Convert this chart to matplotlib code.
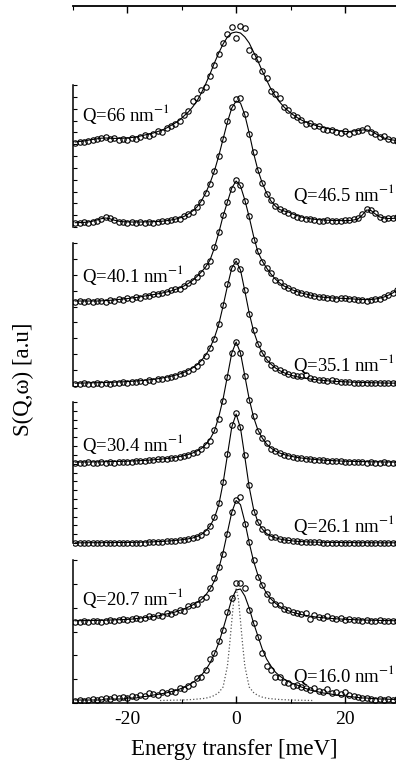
import numpy as np
import matplotlib
matplotlib.use('Agg')
import matplotlib.pyplot as plt
from matplotlib.ticker import MultipleLocator

plt.rcParams['font.family'] = 'Liberation Serif'
plt.rcParams['mathtext.fontset'] = 'stix'
plt.rcParams['axes.unicode_minus'] = False

# energy transfer grid (meV)
energy = [-29.6, -28.8, -28.0, -27.2, -26.4, -25.6, -24.8, -24.0, -23.2, -22.4,
          -21.6, -20.8, -20.0, -19.2, -18.4, -17.6, -16.8, -16.0, -15.2, -14.4,
          -13.6, -12.8, -12.0, -11.2, -10.4, -9.6, -8.8, -8.0, -7.2, -6.4,
          -5.6, -4.8, -4.0, -3.2, -2.4, -1.6, -0.8, 0.0, 0.8, 1.6,
          2.4, 3.2, 4.0, 4.8, 5.6, 6.4, 7.2, 8.0, 8.8, 9.6,
          10.4, 11.2, 12.0, 12.8, 13.6, 14.4, 15.2, 16.0, 16.8, 17.6,
          18.4, 19.2, 20.0, 20.8, 21.6, 22.4, 23.2, 24.0, 24.8, 25.6,
          26.4, 27.2, 28.0, 28.8, 29.6]

q_values = ['16.0', '20.7', '26.1', '30.4', '35.1', '40.1', '46.5', '66']

# measured S(Q,w), arbitrary units
s_16 = [0, 1, 0, 1, 2, 1, 2, 3, 2, 4, 3, 4, 3, 5, 4, 6, 5, 8, 7, 6, 9, 8, 10, 9, 13, 12, 15, 17, 23, 24,
        31, 42, 48, 60, 71, 89, 103, 118,
        118, 113, 91, 78, 64, 48, 35, 31, 24, 24, 19, 18, 15, 16, 14, 13, 11, 13, 10, 9, 12, 8, 9, 7, 9, 6,
        5, 4, 3, 3, 2, 1, 2, 1, 2, 1, 2]
s_20 = [0, 0, 1, 0, 1, 1, 0, 1, 2, 1, 2, 3, 2, 3, 4, 3, 4, 6, 5, 7, 6, 9, 8, 10, 12, 11, 16, 17, 18, 23,
        25, 34, 44, 55, 68, 88, 110, 122,
        125, 98, 80, 62, 45, 37, 28, 22, 18, 17, 13, 12, 10, 9, 8, 9, 3, 7, 5, 4, 6, 4, 3, 4, 2, 3,
        2, 2, 1, 2, 1, 1, 2, 1, 1, 1, 1]
s_26 = [0, 0, 0, 0, 0, 0, 0, 0, 0, 0, 0, 0, 0, 0, 0, 0, 0, 1, 1, 1, 1, 2, 2, 2, 3, 3, 4, 5, 6, 8,
        11, 17, 26, 40, 61, 89, 118, 130,
        116, 88, 58, 31, 21, 14, 11, 6, 6, 4, 3, 3, 2, 2, 1, 1, 1, 1, 1, 0, 0, 0, 0, 0, 0, 0,
        0, 0, 0, 0, 0, 0, 0, 0, 0, 0, 0]
s_30 = [0, 0, 0, 1, 0, 0, 1, 0, 1, 0, 1, 1, 1, 1, 2, 2, 2, 3, 3, 4, 4, 4, 5, 5, 6, 7, 8, 10, 11, 14,
        18, 22, 33, 44, 62, 86, 110, 121,
        110, 87, 63, 47, 32, 25, 20, 14, 12, 10, 8, 7, 6, 5, 5, 4, 4, 3, 3, 3, 2, 2, 2, 2, 1, 1,
        1, 1, 1, 0, 1, 0, 0, 1, 0, 0, 0]
s_35 = [0, 0, 1, 0, 0, 1, 0, 1, 0, 1, 1, 2, 1, 2, 2, 3, 2, 4, 3, 5, 5, 6, 7, 8, 10, 11, 13, 15, 18, 22,
        28, 36, 45, 60, 79, 100, 116, 123,
        115, 94, 70, 54, 40, 31, 25, 19, 16, 14, 12, 10, 9, 8, 8, 9, 6, 5, 4, 4, 3, 4, 3, 2, 2, 2,
        1, 1, 1, 1, 1, 1, 1, 1, 1, 1, 1]
s_40 = [0, 1, 0, 1, 0, 1, 1, 0, 2, 1, 3, 2, 4, 3, 5, 4, 6, 6, 8, 8, 9, 10, 12, 13, 13, 16, 19, 21, 25, 29,
        36, 41, 55, 70, 87, 100, 113, 122,
        117, 101, 86, 62, 51, 40, 34, 29, 22, 20, 16, 14, 12, 10, 9, 8, 7, 6, 5, 5, 4, 4, 3, 4, 4, 3,
        3, 2, 2, 1, 2, 3, 3, 5, 7, 9, 12]
s_46 = [0, 0, 1, 0, 1, 2, 4, 6, 5, 3, 1, 1, 0, 1, 0, 1, 0, 1, 0, 1, 2, 2, 3, 4, 4, 7, 9, 11, 16, 21,
        30, 39, 52, 67, 84, 102, 116, 124,
        125, 109, 89, 71, 53, 40, 29, 23, 17, 14, 12, 10, 8, 6, 5, 4, 4, 3, 2, 2, 3, 2, 2, 2, 3, 3,
        4, 5, 9, 14, 13, 10, 6, 4, 5, 5, 6]
s_66 = [0, 1, 1, 2, 3, 4, 5, 6, 4, 5, 3, 4, 3, 5, 4, 6, 8, 7, 9, 12, 11, 15, 17, 19, 22, 28, 32, 42, 45, 53,
        56, 67, 78, 89, 100, 109, 116, 105,
        117, 115, 93, 87, 84, 72, 65, 52, 49, 45, 36, 33, 28, 26, 23, 19, 20, 17, 17, 14, 13, 13, 11, 10, 12, 9,
        11, 12, 13, 15, 11, 9, 6, 7, 4, 3, 2]

# fitted model curves on the same grid
fit_16 = [1, 1, 1, 1, 1, 1, 1, 2, 2, 2, 2, 2, 3, 3, 3, 4, 4.5, 5, 6, 6.6, 7.4, 8.2, 9.3, 10.4, 11.9, 13.6,
          15.7, 18.4, 21.6, 25.8, 31, 38, 47, 58, 72, 87, 102, 111,
          112, 105, 93, 78, 65, 52, 42, 35, 29, 25, 22, 19.5, 17.5, 16, 14, 12.5, 11, 10, 9, 8,
          7.5, 6.8, 6, 5.5, 5, 4.5, 4, 3.5, 3, 3, 2.5, 2.3, 2, 2, 1.8, 1.6, 1.5]
fit_20 = [1.2, 1.3, 1.4, 1.4, 1.5, 1.6, 1.7, 1.8, 2.0, 2.1, 2.3, 2.4, 2.6, 2.9, 3.4, 3.9, 4.4, 5, 5.5, 6,
          7, 8, 9, 10, 11.5, 13, 15, 17, 19.5, 22.5, 27, 33, 41, 53.5, 69.7, 89.7, 109.8, 121.5,
          117.3, 100.2, 79.3, 61, 46.9, 36.4, 28.8, 23.1, 18.9, 15.7, 13.2, 11.3, 9.7, 8.5, 7.4, 6.6,
          5.8, 5.2, 4.7, 4.2, 3.9, 3.5, 3.2, 3.0, 2.7, 2.5, 2.35, 2.2, 2.0, 1.9, 1.8, 1.7, 1.6, 1.5,
          1.4, 1.3, 1.3]
fit_26 = [0.2, 0.2, 0.2, 0.3, 0.3, 0.3, 0.3, 0.4, 0.4, 0.4, 0.5, 0.5, 0.6, 0.6, 0.7, 0.8, 0.9, 1.0, 1.2,
          1.4, 1.6, 1.9, 2.2, 2.6, 3.0, 3.6, 4.2, 5, 6.5, 8.5, 12, 17, 25, 38, 60, 88, 116, 129,
          115, 86, 56, 34, 21, 14, 9.5, 6.8, 5.2, 4.0, 3.2, 2.6, 2.1, 1.7, 1.4, 1.2, 1.0, 0.9, 0.8,
          0.7, 0.6, 0.6, 0.5, 0.5, 0.4, 0.4, 0.4, 0.3, 0.3, 0.3, 0.3, 0.2, 0.2, 0.2, 0.2, 0.2, 0.2]
fit_30 = [0.9, 0.9, 1.0, 1.0, 1.1, 1.1, 1.2, 1.3, 1.4, 1.5, 1.6, 1.7, 1.8, 2.0, 2.2, 2.4, 2.6, 2.9, 3.2,
          3.6, 4.0, 4.4, 5.0, 5.6, 6.4, 7.3, 8.5, 10, 12, 14.5, 18.5, 24, 32, 46, 64, 87, 110, 121,
          110, 87, 64, 46, 33, 25, 19, 15, 12, 10, 8.5, 7.3, 6.4, 5.6, 5.0, 4.4, 4.0, 3.6, 3.2, 2.9,
          2.6, 2.4, 2.2, 2.0, 1.8, 1.7, 1.6, 1.5, 1.4, 1.3, 1.2, 1.1, 1.1, 1.0, 1.0, 0.9, 0.9]
fit_35 = [0.8, 0.9, 1.0, 1.1, 1.2, 1.3, 1.4, 1.5, 1.7, 1.8, 2.0, 2.2, 2.4, 2.7, 3.0, 3.3, 3.7, 4.2, 4.7,
          5.3, 6.0, 6.8, 7.7, 8.8, 10.0, 11.6, 13.6, 16.1, 19.2, 23.4, 28.9, 36.2, 46.2, 59.5, 78, 98,
          116, 123,
          114, 93, 71, 53, 40.5, 31.2, 24.6, 19.8, 16.2, 13.4, 11.3, 9.6, 8.3, 7.2, 6.3, 5.6, 5.0, 4.5,
          4.0, 3.6, 3.2, 2.9, 2.6, 2.4, 2.2, 2.0, 1.8, 1.7, 1.5, 1.4, 1.3, 1.2, 1.1, 1.0, 0.9, 0.9, 0.8]
fit_40 = [1, 1, 1, 1, 1, 1, 1.2, 1.4, 1.7, 2, 2.5, 3, 3.4, 4, 4.5, 5.2, 6, 6.6, 7.4, 8.2, 9, 10, 11, 12.5,
          14, 16, 18.5, 21.5, 25.5, 30, 35, 42, 54, 69, 86, 100, 114, 121,
          116, 102, 85, 66, 50, 41, 34, 28, 23, 19, 16, 14, 12, 10.5, 9, 8, 7, 6, 5.3, 4.8, 4.4, 4.1,
          3.9, 3.7, 3.5, 3.3, 3.0, 2.7, 2.5, 2.4, 2.5, 3, 3.8, 5, 6.8, 9, 12]
fit_46 = [0.3, 0.4, 0.6, 1.0, 1.8, 3, 4.3, 5, 4.2, 2.8, 1.8, 1.3, 1.1, 1.0, 1.0, 1.0, 1.1, 1.2, 1.3, 1.5,
          1.8, 2.3, 3, 3.8, 5, 6.5, 9, 12, 16, 22, 30, 40, 52, 67, 84, 101, 115, 122,
          120, 108, 90, 70, 53, 40, 30, 22, 17, 13.5, 12, 11, 9, 7.5, 6, 5, 4.3, 3.7, 3.3, 3.0, 2.8,
          2.6, 2.5, 2.4, 2.4, 2.5, 3, 4, 8, 13, 12.5, 9, 6, 5, 4.5, 4.6, 5]
fit_66 = [1, 1.5, 2, 2.8, 3.5, 4.2, 4.8, 5, 4.8, 4.6, 4.6, 4.8, 5, 5.5, 6, 7, 8, 9, 10, 11.5, 13, 15, 17.5,
          20, 23, 27, 31, 36, 42, 50, 59, 69, 80, 90, 99, 106, 110, 111,
          110, 106, 100, 91, 82, 72, 63, 54, 47, 41, 36, 32, 28.5, 25.5, 23, 21, 19.5, 18, 16.5, 15.5,
          14.5, 13.5, 12.8, 12, 11.5, 11.5, 12, 12.5, 13, 13.2, 12, 9.5, 7, 5, 3.8, 3, 2.5]

# resolution function (dotted), shown under the lowest spectrum
res_energy = [-14, -10, -8, -6, -5, -4, -3.2, -2.4, -1.6, -1.2, -0.8, -0.4, 0, 0.4, 0.8, 1.2, 1.6,
              2.4, 3.2, 4, 5, 6, 8, 10, 14]
res_16 = [0.5, 1, 1.5, 2.5, 3.5, 5.5, 8.5, 14, 35, 56, 80, 103, 112, 103, 80, 56, 35, 14, 8.5, 5.5,
          3.5, 2.5, 1.5, 1, 0.5]

spectra = [s_16, s_20, s_26, s_30, s_35, s_40, s_46, s_66]
fits = [fit_16, fit_20, fit_26, fit_30, fit_35, fit_40, fit_46, fit_66]

# layout (pixels of a 396x763 figure)
W, H = 396, 763
ax_left, ax_top, ax_bot = 73, 6, 703
offsets = [2, 81, 160, 240, 319, 401, 480, 560]
label_y = [675, 598, 525, 444, 364, 275, 194, 114]
label_left = [False, True, False, True, False, True, False, True]

fig = plt.figure(figsize=(W / 100, H / 100), dpi=100)
ax = fig.add_axes([ax_left / W, 1 - ax_bot / H, 1 - ax_left / W, (ax_bot - ax_top) / H])
ax.patch.set_visible(False)

e = np.array(energy)
for s, f, off in zip(spectra, fits, offsets):
    ax.plot(e, np.array(f) + off, '-', color='black', lw=0.8, zorder=2)
    ax.plot(e, np.array(s) + off, 'o', mfc='none', mec='black', ms=3.9, mew=0.8, zorder=3)
ax.plot(res_energy, np.array(res_16) + offsets[0], ':', color='#555555', lw=0.9, zorder=1)

ax.set_xlim(-30, 29.4)
ax.set_ylim(0, ax_bot - ax_top)
ax.spines['left'].set_visible(False)
ax.spines['right'].set_visible(False)
ax.spines['top'].set_linewidth(1.3)
ax.spines['bottom'].set_linewidth(1.1)
ax.set_yticks([])
ax.xaxis.set_major_locator(MultipleLocator(20))
ax.xaxis.set_minor_locator(MultipleLocator(10))
ax.tick_params(axis='x', which='both', direction='in', top=True, bottom=True)
ax.tick_params(axis='x', which='major', length=5, width=1.0, labelsize=14, pad=6)
ax.tick_params(axis='x', which='minor', length=3, width=0.8)
ax.set_xlabel('Energy transfer [meV]', fontsize=16.5, labelpad=8)

# broken left axis: one short segment per pair of spectra
panels = [(85, 227, 12), (243, 386, 9), (402, 543, 16), (560, 703, 6)]
for top, bot, n in panels:
    pa = fig.add_axes([ax_left / W, 1 - bot / H, 1 - ax_left / W, (bot - top) / H])
    pa.patch.set_visible(False)
    for side in ['top', 'right', 'bottom']:
        pa.spines[side].set_visible(False)
    pa.spines['left'].set_linewidth(1.1)
    pa.set_xticks([])
    pa.set_ylim(0, n)
    pa.yaxis.set_major_locator(MultipleLocator(1))
    pa.tick_params(axis='y', direction='in', length=3, width=0.8, labelleft=False)

for q, y, left in zip(q_values, label_y, label_left):
    txt = 'Q=' + q + r' nm$^{-1}$'
    if left:
        fig.text(82 / W, 1 - y / H, txt, ha='left', va='center', fontsize=13.5)
    else:
        fig.text(395 / W, 1 - y / H, txt, ha='right', va='center', fontsize=13.5)

fig.text(23 / W, 1 - 379 / H, 'S(Q,ω) [a.u]', rotation=90, ha='center', va='center',
         fontsize=16.5)

fig.savefig('out.png', dpi=100)
